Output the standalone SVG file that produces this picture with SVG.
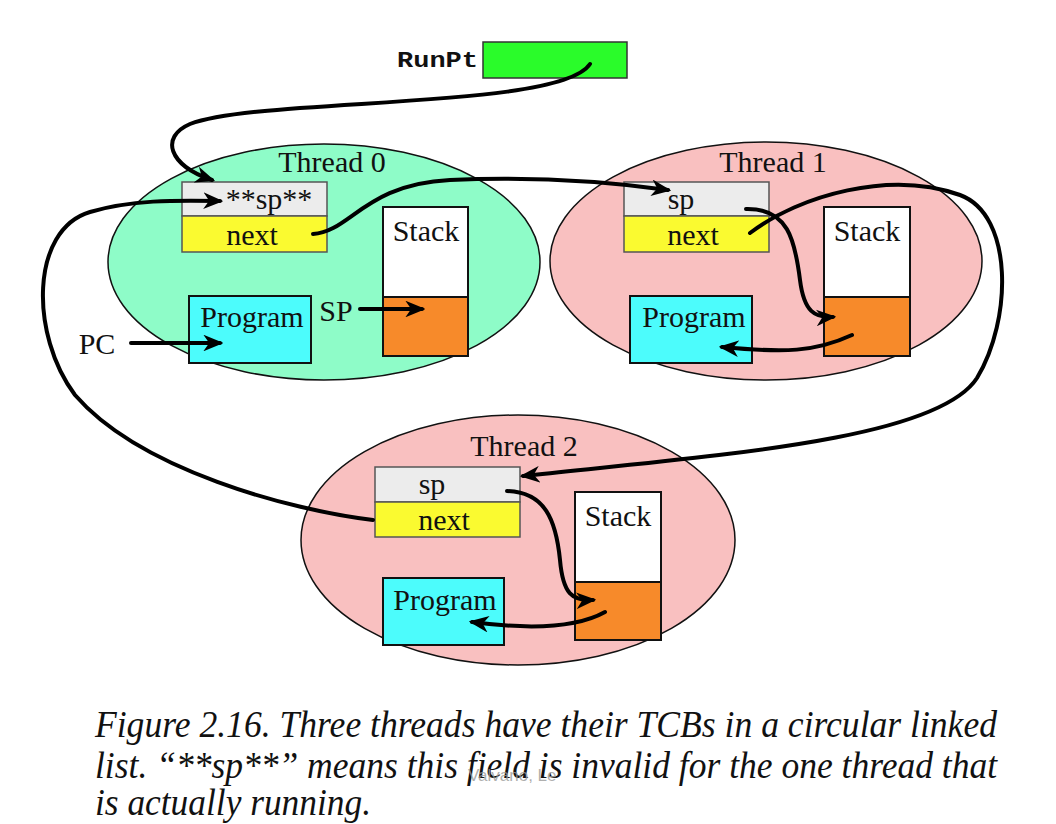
<svg xmlns="http://www.w3.org/2000/svg" width="1056" height="824" viewBox="0 0 1056 824">
<defs>
<marker id="ah" viewBox="0 0 12 10" refX="10" refY="5" markerWidth="5" markerHeight="4.2" orient="auto" markerUnits="strokeWidth">
<path d="M0,0 L12,5 L0,10 L3.5,5 z" fill="#000"/>
</marker>
<style>
.t{font-family:"Liberation Serif","Times New Roman",serif;font-size:30px;fill:#111;text-anchor:middle}
.ell{stroke:#111;stroke-width:1.5}
.box{stroke:#555;stroke-width:1.5}
.blk{stroke:#111;stroke-width:2}
.sp{fill:#ececec}
.nx{fill:#fafa30}
.pg{fill:#4cfcfc}
.st{fill:#ffffff}
.or{fill:#f78a2a}
.c{fill:none;stroke:#000;stroke-width:4;stroke-linecap:round;marker-end:url(#ah)}
.cap{font-family:"Liberation Serif","Times New Roman",serif;font-style:italic;font-size:37px;fill:#111}
</style>
</defs>
<rect width="1056" height="824" fill="#fff"/>

<g id="runpt">
<text x="397" y="67" font-family="Liberation Mono, Courier New, monospace" font-weight="bold" font-size="22" textLength="81" lengthAdjust="spacingAndGlyphs" fill="#111">RunPt</text>
<rect x="483" y="42" width="144" height="36" fill="#2afc2a" stroke="#333" stroke-width="1.5"/>
</g>

<g id="thread0">
<ellipse cx="324" cy="262" rx="216" ry="118" fill="#8efcc8" class="ell"/>
<text class="t" x="332" y="172">Thread 0</text>
<rect x="182" y="182" width="145" height="34" class="sp box"/>
<rect x="182" y="216" width="145" height="36" class="nx box"/>
<text class="t" x="269" y="209">**sp**</text>
<text class="t" x="252" y="245">next</text>
<rect x="383" y="207" width="85" height="90" class="st blk"/>
<rect x="383" y="297" width="85" height="59" class="or blk"/>
<text class="t" x="426" y="241">Stack</text>
<rect x="189" y="296" width="122" height="67" class="pg blk"/>
<text class="t" x="252" y="327">Program</text>
<text class="t" x="336" y="321">SP</text>
<text class="t" x="97" y="354">PC</text>
</g>

<g id="thread1">
<ellipse cx="766" cy="261" rx="216" ry="119" fill="#f9c0c0" class="ell"/>
<text class="t" x="773" y="172">Thread 1</text>
<rect x="624" y="182" width="145" height="34" class="sp box"/>
<rect x="624" y="216" width="145" height="36" class="nx box"/>
<text class="t" x="681" y="209">sp</text>
<text class="t" x="693" y="245">next</text>
<rect x="824" y="207" width="86" height="90" class="st blk"/>
<rect x="824" y="297" width="86" height="59" class="or blk"/>
<text class="t" x="867" y="241">Stack</text>
<rect x="630" y="296" width="122" height="67" class="pg blk"/>
<text class="t" x="694" y="327">Program</text>
</g>

<g id="thread2">
<ellipse cx="518" cy="540" rx="217" ry="125" fill="#f9c0c0" class="ell"/>
<text class="t" x="524" y="456">Thread 2</text>
<rect x="375" y="467" width="145" height="35" class="sp box"/>
<rect x="375" y="502" width="145" height="35" class="nx box"/>
<text class="t" x="432" y="494">sp</text>
<text class="t" x="444" y="530">next</text>
<rect x="575" y="492" width="86" height="90" class="st blk"/>
<rect x="575" y="582" width="86" height="58" class="or blk"/>
<text class="t" x="618" y="526">Stack</text>
<rect x="383" y="578" width="121" height="67" class="pg blk"/>
<text class="t" x="445" y="610">Program</text>
</g>

<g id="connectors">
<path class="c" d="M590,64 C560,110 260,97 190,124 C160,137 168,165 212,180"/>
<path class="c" d="M360,309 L422,309"/>
<path class="c" d="M131,343 L220,343"/>
<path class="c" d="M313,234 C350,232 365,184 450,180 C540,176 610,182 668,190"/>
<path class="c" d="M746,209 C788,208 795,240 800,280 C804,312 815,318 833,317"/>
<path class="c" d="M852,335 C815,352 785,353 722,347"/>
<path class="c" d="M750,233 C800,195 890,170 960,195 C1014,215 1012,320 977,378 C937,440 720,455 523,476"/>
<path class="c" d="M373,520 C290,510 140,470 75,395 C30,335 30,230 90,212 C130,200 175,200 220,201"/>
<path class="c" d="M507,491 C545,492 556,520 560,560 C563,594 572,601 593,600"/>
<path class="c" d="M605,612 C580,626 540,631 472,622"/>
</g>

<g id="caption">
<text class="cap" x="95" y="737" textLength="902" lengthAdjust="spacingAndGlyphs">Figure 2.16. Three threads have their TCBs in a circular linked</text>
<text class="cap" x="95" y="778" textLength="902" lengthAdjust="spacingAndGlyphs">list. “**sp**” means this field is invalid for the one thread that</text>
<text class="cap" x="95" y="815" textLength="276" lengthAdjust="spacingAndGlyphs">is actually running.</text>
<text x="468" y="781" font-family="Liberation Sans, Arial, sans-serif" font-size="17" fill="#999" fill-opacity="0.8">Valvano, Le</text>
</g>
</svg>
